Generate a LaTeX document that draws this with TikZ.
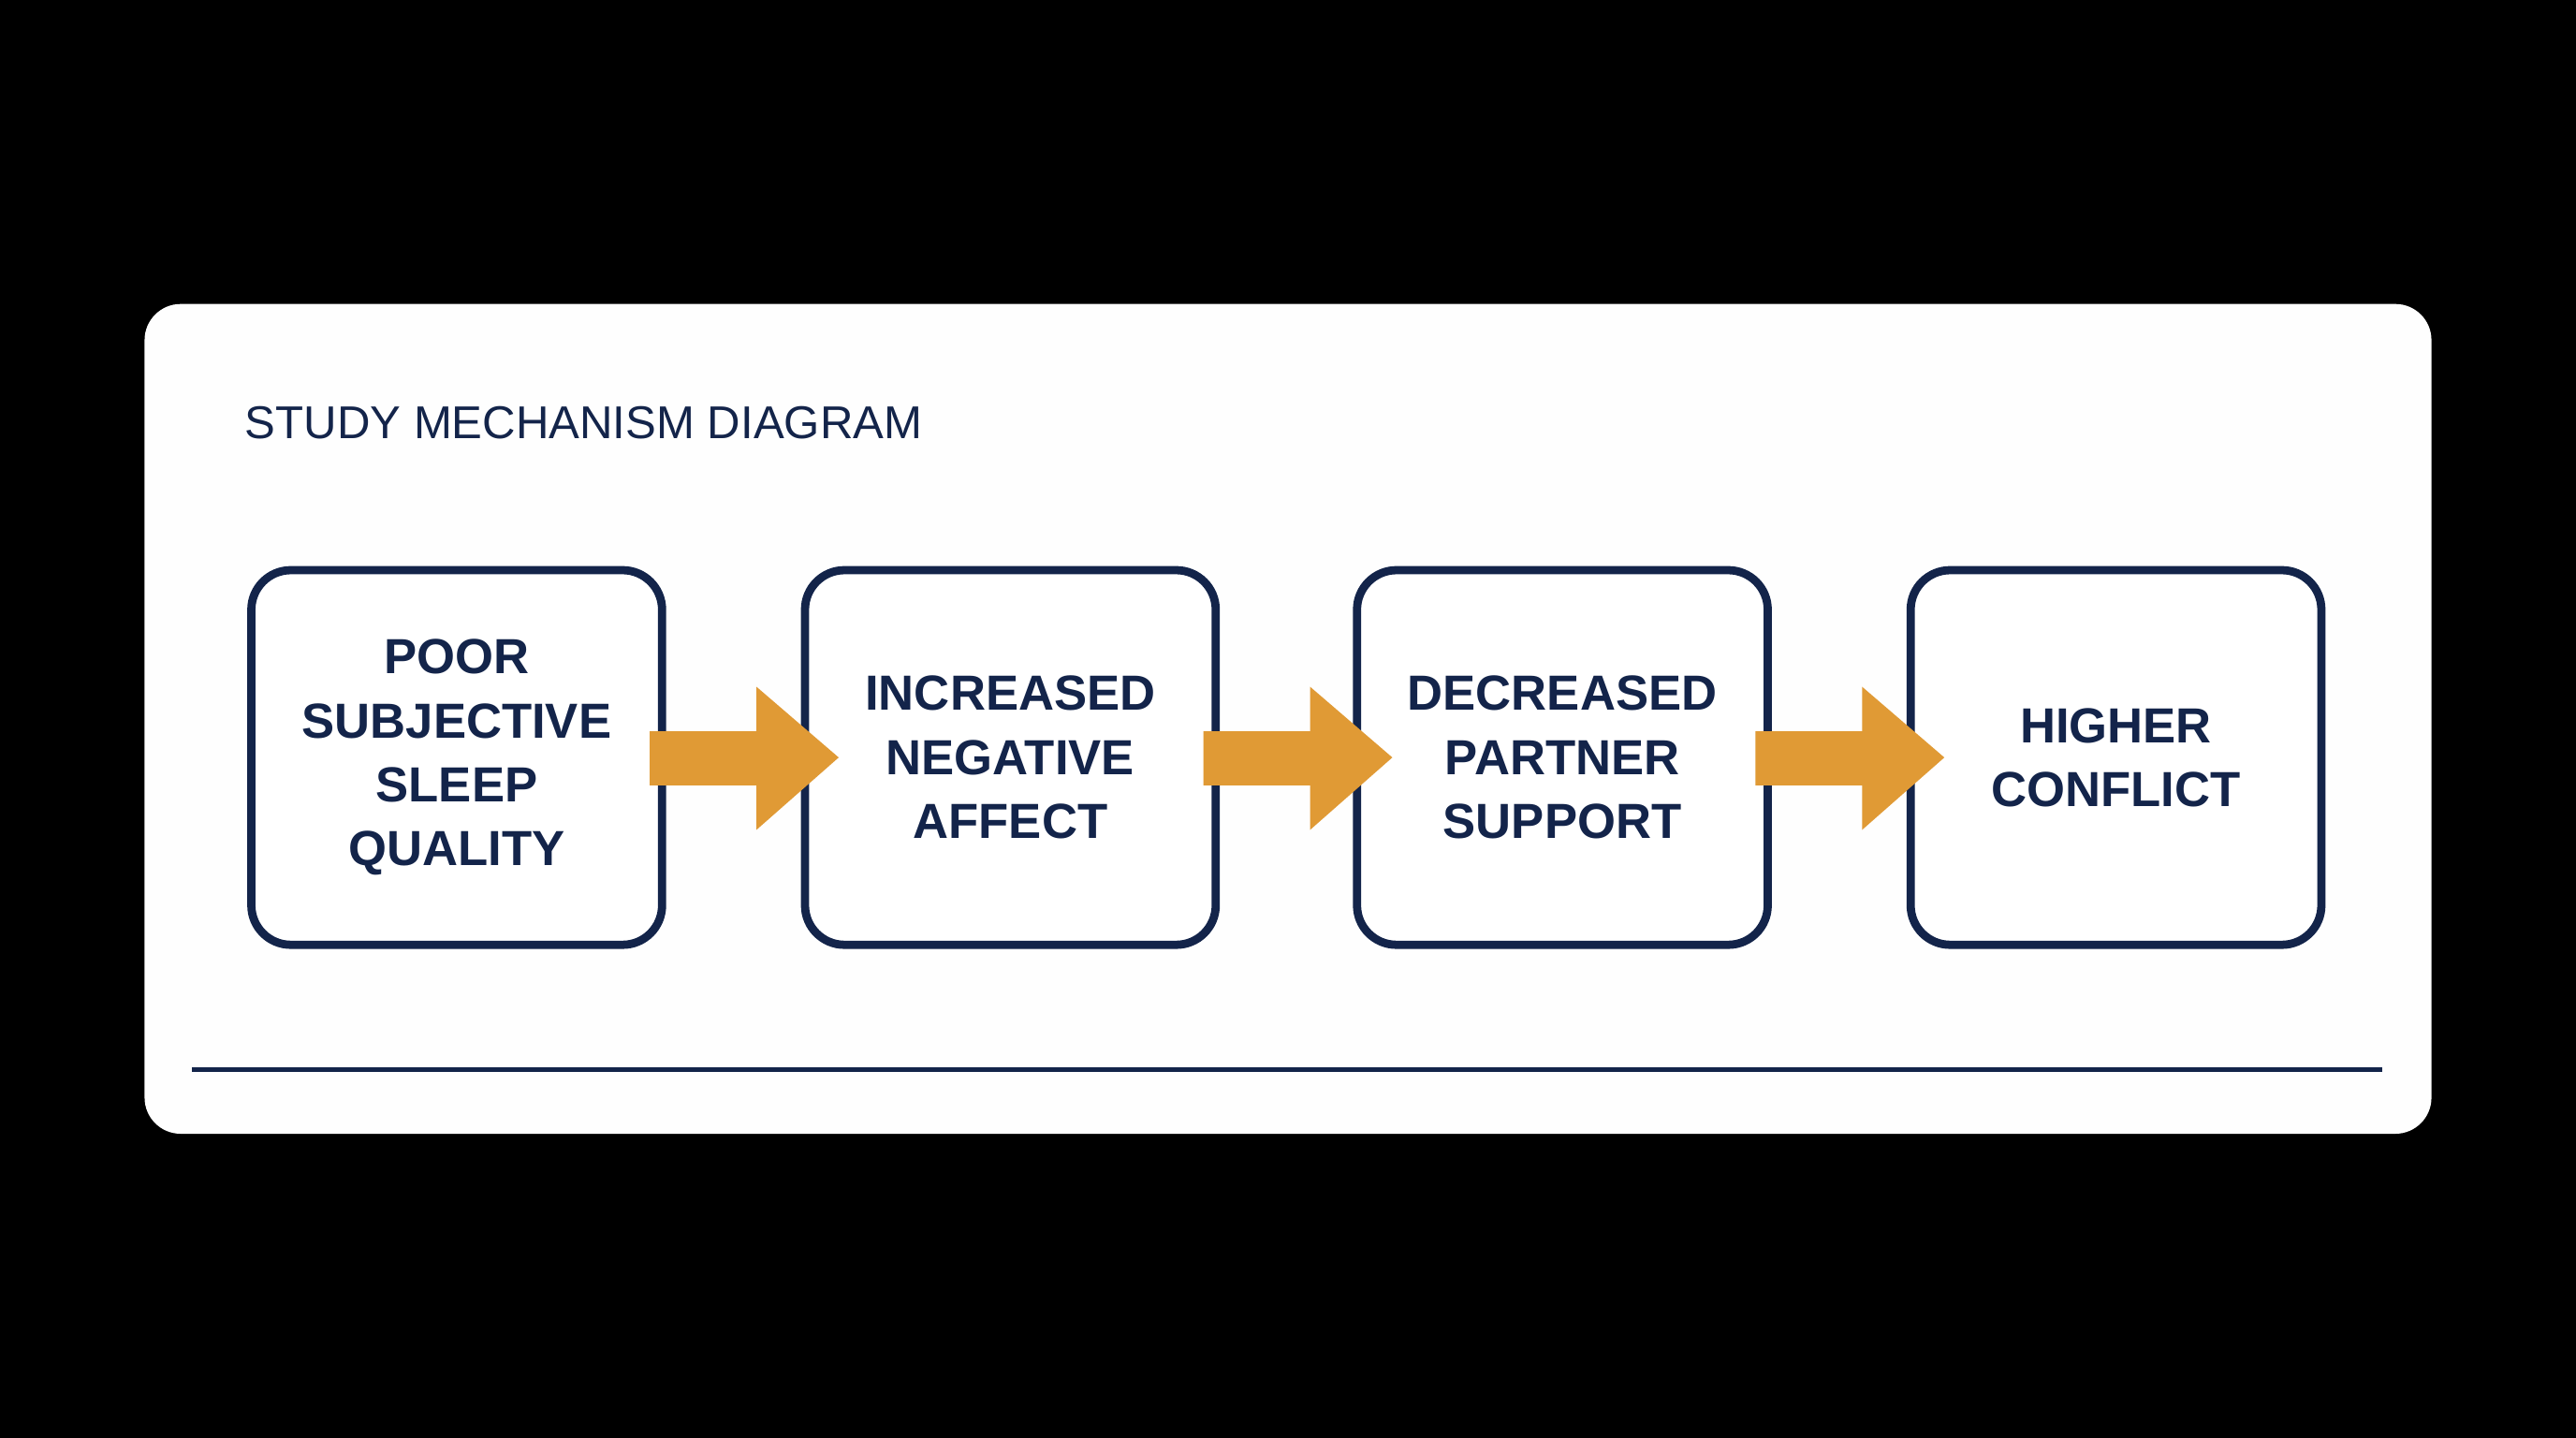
\documentclass[tikz,border=0pt]{standalone}
\usepackage{fontspec}
\setmainfont{Liberation Sans}
\definecolor{navy}{HTML}{13244A}
\definecolor{org}{HTML}{E09A35}
\definecolor{card}{HTML}{FEFEFE}
\begin{document}
\begin{tikzpicture}[x=1pt,y=-1pt,
  box/.style={draw=navy,line width=5pt,rounded corners=24pt,fill=white,minimum width=250pt,minimum height=228pt,
    align=center,text=navy,font=\fontsize{30}{39}\selectfont\bfseries},
  arr/.style={fill=org}]
\fill[black] (0,0) rectangle (1568,875);
\fill[card,rounded corners=22pt] (88,185) rectangle (1480,690);
\node[anchor=base west,text=navy,font=\fontsize{28}{34}\selectfont,inner sep=0] (title) at (149,267) {STUDY MECHANISM DIAGRAM};
\node[box] (b1) at (278,461) {POOR\\SUBJECTIVE\\SLEEP\\QUALITY};
\node[box] (b2) at (615,461) {INCREASED\\NEGATIVE\\AFFECT};
\node[box] (b3) at (951,461) {DECREASED\\PARTNER\\SUPPORT};
\node[box] (b4) at (1288,461) {HIGHER\\CONFLICT};
\foreach \a in {b1,b2,b3}{
  \fill[arr] ([xshift=-10pt,yshift=16pt]\a.east) -- ++(65,0) -- ++(0,-27) -- ++(50,43) -- ++(-50,44) -- ++(0,-27) -- ++(-65,0) -- cycle;
}
\coordinate (l1) at (117,651); \coordinate (l2) at (1450,651);
\draw[navy,line width=2.5pt] (l1) -- (l2);
\end{tikzpicture}
\end{document}
